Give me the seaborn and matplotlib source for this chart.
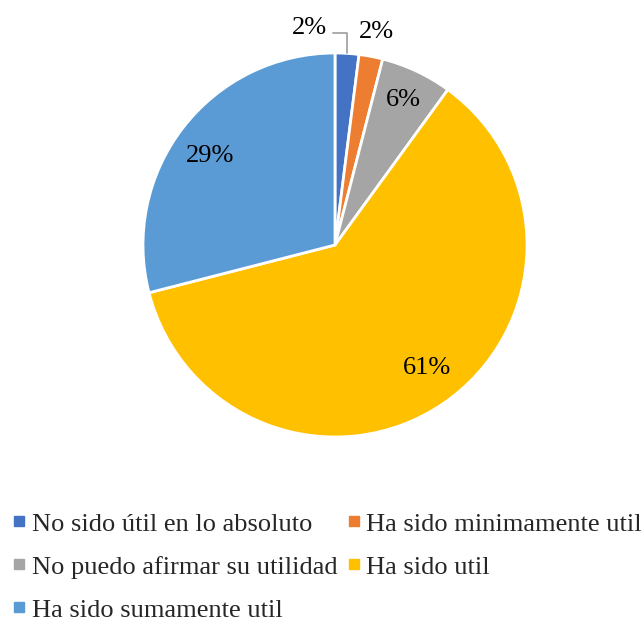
import matplotlib
matplotlib.use("Agg")
import matplotlib.pyplot as plt
from matplotlib.lines import Line2D
import seaborn as sns
import numpy as np

categories = ["No sido útil en lo absoluto", "Ha sido minimamente util",
              "No puedo afirmar su utilidad", "Ha sido util", "Ha sido sumamente util"]
values = [2, 2, 6, 61, 29]
pct_labels = ["2%", "2%", "6%", "61%", "29%"]
colors = ["#4472C4", "#ED7D31", "#A5A5A5", "#FFC000", "#5B9BD5"]

sns.set_theme(style="white")
plt.rcParams['font.family'] = ['Liberation Serif', 'DejaVu Serif']

W, H = 643, 622
fig = plt.figure(figsize=(W / 100, H / 100), dpi=100)
cx, cy, R = 335, 245, 192
ax = fig.add_axes([(cx - R) / W, (H - cy - R) / H, 2 * R / W, 2 * R / H])

wedges, _ = ax.pie(values, colors=colors, startangle=90, counterclock=False,
                   radius=1.0, wedgeprops=dict(edgecolor="white", linewidth=2))
ax.set_xlim(-1, 1)
ax.set_ylim(-1, 1)
ax.set_aspect("equal")
ax.axis("off")

FS = 19
# label placement (pixel positions)
label_px = [(309, 26), (376, 30), (403, 98), (427, 366), (210, 153)]
for (px, py), t in zip(label_px, pct_labels):
    ax.text((px - cx) / R, (cy - py) / R, t, ha="center", va="center_baseline",
            fontsize=FS, color="#000000")

# leader line for the first label
w0 = wedges[0]
mid0 = np.deg2rad((w0.theta1 + w0.theta2) / 2)
x0, y0 = np.cos(mid0) * 1.0, np.sin(mid0) * 1.0
ly = (cy - 33) / R
lx_end = (333 - cx) / R
ax.plot([x0, x0, lx_end], [y0, ly, ly], color="#A5A5A5", lw=1.3, clip_on=False)

handles = [Line2D([0], [0], marker="s", linestyle="none", markersize=6.5,
                  markerfacecolor=c, markeredgecolor=c) for c in colors]
order = [0, 2, 4, 1, 3]
fig.legend([handles[i] for i in order], [categories[i] for i in order],
           loc="upper left", bbox_to_anchor=(0 / W, 1 - 499 / H), ncol=2,
           frameon=False, fontsize=FS, handlelength=0.45, handletextpad=0.25,
           columnspacing=0.4, labelspacing=0.74, borderpad=0)

fig.savefig("out.png", dpi=100)
